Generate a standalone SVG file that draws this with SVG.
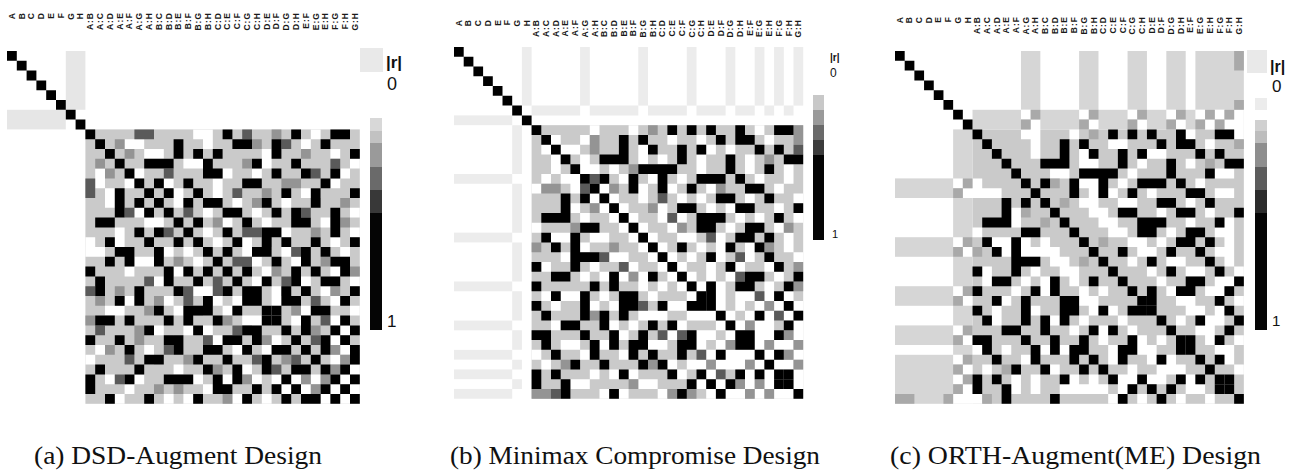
<svg xmlns="http://www.w3.org/2000/svg" width="1289" height="470" viewBox="0 0 1289 470">
<style>
.k{fill:none;stroke:#000;stroke-width:1}
.w{fill:none;stroke:#fff;stroke-width:1}
.m{fill:none;stroke:#949494;stroke-width:1}
.d{fill:none;stroke:#5a5a5a;stroke-width:1}
.mc{fill:none;stroke:#a9a9a9;stroke-width:1}
.lt{fill:#cacaca}
.fa{fill:#e6e6e6}
.fb{fill:#ececec}
.fbs{fill:none;stroke:#ececec;stroke-width:1}
.fc{fill:#d6d6d6}
.lab{font-family:"Liberation Sans",Arial,sans-serif;font-weight:bold;font-size:8.5px;letter-spacing:1px;text-anchor:end;fill:#1a1a1a}
.leg{font-family:"Liberation Sans",Arial,sans-serif;fill:#111}
.cap{font-family:"Liberation Serif","Times New Roman",serif;font-size:25px;fill:#111}
</style>
<defs>
<!-- slight softening of the cell edges -->
<filter id="soft" x="-2%" y="-2%" width="104%" height="104%">
<feGaussianBlur stdDeviation="0.06"/>
</filter>
<!-- unit-cell diagonal (|r| = 1 with itself) -->
<path id="diag" class="k" d="M0 .5h1M1 1.5h1M2 2.5h1M3 3.5h1M4 4.5h1M5 5.5h1M6 6.5h1M7 7.5h1M8 8.5h1M9 9.5h1M10 10.5h1M11 11.5h1M12 12.5h1M13 13.5h1M14 14.5h1M15 15.5h1M16 16.5h1M17 17.5h1M18 18.5h1M19 19.5h1M20 20.5h1M21 21.5h1M22 22.5h1M23 23.5h1M24 24.5h1M25 25.5h1M26 26.5h1M27 27.5h1M28 28.5h1M29 29.5h1M30 30.5h1M31 31.5h1M32 32.5h1M33 33.5h1M34 34.5h1M35 35.5h1"/>
<!-- fully aliased interaction pairs shared by designs (b) and (c) -->
<path id="kbc" class="k" d="M22 8.5h1M24 8.5h1M26 8.5h1M29 8.5h1M33 8.5h2M17 9.5h1M19 9.5h1M27 9.5h1M29 9.5h2M17 10.5h1M20 10.5h1M23 10.5h1M25 10.5h1M31 10.5h1M33 10.5h1M15 11.5h3M23 11.5h1M28 11.5h1M34 11.5h2M19 12.5h4M28 12.5h1M32 12.5h1M15 13.5h1M18 13.5h1M21 13.5h1M25 13.5h3M29 13.5h1M18 14.5h1M21 14.5h1M24 14.5h1M30 14.5h2M27 15.5h2M32 15.5h1M23 16.5h2M29 16.5h2M35 16.5h1M25 17.5h3M33 17.5h1M25 18.5h2M30 18.5h2M29 19.5h2M32 19.5h1M23 20.5h1M28 20.5h1M31 20.5h1M26 21.5h1M32 21.5h1M28 22.5h1M33 22.5h1M30 23.5h2M35 23.5h1M26 24.5h1M29 24.5h2M34 24.5h1M26 25.5h1M33 25.5h1M34 26.5h1M31 27.5h1M35 27.5h1M34 28.5h1M30 29.5h1M33 29.5h1M33 31.5h1M34 33.5h1"/>
<!-- rotated column labels, 9.8 px pitch -->
<g id="collabels" class="lab" transform="rotate(-90)">
<text y="7.8">A</text><text y="17.6">B</text><text y="27.4">C</text><text y="37.2">D</text><text y="47">E</text><text y="56.8">F</text><text y="66.6">G</text><text y="76.4">H</text><text y="86.2">A:B</text><text y="96">A:C</text><text y="105.8">A:D</text><text y="115.6">A:E</text><text y="125.4">A:F</text><text y="135.2">A:G</text><text y="145">A:H</text><text y="154.8">B:C</text><text y="164.6">B:D</text><text y="174.4">B:E</text><text y="184.2">B:F</text><text y="194">B:G</text><text y="203.8">B:H</text><text y="213.6">C:D</text><text y="223.4">C:E</text><text y="233.2">C:F</text><text y="243">C:G</text><text y="252.8">C:H</text><text y="262.6">D:E</text><text y="272.4">D:F</text><text y="282.2">D:G</text><text y="292">D:H</text><text y="301.8">E:F</text><text y="311.6">E:G</text><text y="321.4">E:H</text><text y="331.2">F:G</text><text y="341">F:H</text><text y="350.8">G:H</text>
</g>
</defs>
<rect width="1289" height="470" fill="#fff"/>

<!-- (a) DSD-Augment -->
<g id="panel-a">
<use href="#collabels" transform="translate(7,12)"/>
<g id="heatmap-a" transform="translate(7,51) scale(9.8)" filter="url(#soft)">
<rect class="lt" x="8" y="8" width="28" height="28"/>
<g id="tri-a">
<rect class="fa" x="6" y="0" width="2" height="6"/>
<path class="w" d="M19 8.5h2M31 8.5h1M12 9.5h2M20 9.5h1M30 9.5h1M14 10.5h2M26 10.5h1M33 10.5h1M18 11.5h2M26 11.5h1M35 11.5h1M13 12.5h1M22 12.5h1M25 12.5h1M34 12.5h1M16 13.5h1M21 13.5h1M33 13.5h1M17 14.5h1M21 14.5h1M30 14.5h2M17 15.5h1M23 15.5h1M28 15.5h1M20 16.5h1M25 16.5h1M35 16.5h1M22 17.5h1M26 17.5h1M32 17.5h1M20 18.5h1M28 18.5h1M35 18.5h1M21 19.5h1M24 19.5h1M33 19.5h1M24 20.5h1M28 20.5h1M34 20.5h1M25 21.5h1M29 21.5h1M26 22.5h1M33 22.5h1M25 23.5h1M30 23.5h1M35 23.5h1M27 24.5h1M32 24.5h1M27 25.5h1M33 25.5h1M30 26.5h1M35 26.5h1M29 27.5h1M33 27.5h1M34 28.5h1M33 29.5h1M34 30.5h1M33 31.5h1M35 32.5h1M34 33.5h1M35 34.5h1"/>
<path class="m" d="M27 8.5h1M11 9.5h1M25 9.5h1M12 10.5h1M30 10.5h1M24 11.5h1M28 13.5h2M26 14.5h1M25 15.5h1M34 15.5h1M21 17.5h1M34 17.5h1M31 18.5h1M26 19.5h1M32 21.5h1M27 22.5h1M35 22.5h1M28 24.5h1M33 24.5h1M29 26.5h1M31 28.5h1M33 30.5h1M34 31.5h1M33 32.5h1"/>
<path class="d" d="M13 8.5h2M24 8.5h1M28 9.5h1M33 11.5h1M16 12.5h1M31 12.5h1M23 14.5h1M18 16.5h1M30 16.5h1M24 18.5h2M29 20.5h1M23 21.5h2M28 23.5h1M31 25.5h1M32 27.5h1M31 29.5h1"/>
<path class="k" d="M22 8.5h1M29 8.5h1M33 8.5h2M17 9.5h1M23 9.5h2M27 9.5h1M32 9.5h1M17 10.5h1M19 10.5h1M21 10.5h1M27 10.5h1M35 10.5h1M14 11.5h3M20 11.5h1M25 11.5h1M29 11.5h1M20 12.5h2M27 12.5h1M30 12.5h1M33 12.5h1M15 13.5h1M18 13.5h1M24 13.5h2M32 13.5h1M16 14.5h1M19 14.5h1M28 14.5h1M31 14.5h1M35 14.5h1M18 15.5h1M20 15.5h2M26 15.5h1M31 15.5h1M22 16.5h2M27 16.5h1M29 16.5h1M33 16.5h1M19 17.5h1M24 17.5h1M29 17.5h2M33 17.5h1M22 18.5h1M26 18.5h2M33 18.5h1M23 19.5h1M26 19.5h1M28 19.5h1M31 19.5h1M35 19.5h1M22 20.5h1M25 20.5h2M30 20.5h1M32 20.5h1M27 21.5h1M30 21.5h1M33 21.5h2M24 22.5h1M29 22.5h1M31 22.5h1M34 22.5h1M26 23.5h1M29 23.5h1M32 23.5h2M25 24.5h1M28 24.5h1M30 24.5h1M35 24.5h1M28 25.5h2M34 25.5h1M27 26.5h1M31 26.5h2M30 27.5h1M34 27.5h1M30 28.5h1M33 28.5h1M35 28.5h1M32 29.5h1M34 29.5h1M32 30.5h1M35 30.5h1M35 31.5h1M34 32.5h1M35 33.5h1"/>
</g>
<use href="#tri-a" transform="matrix(0 1 1 0 0 0)"/>
<use href="#diag"/>
</g>
<g id="legend-a">
<rect x="360" y="48" width="23" height="24" fill="#e9e9e9"/>
<rect x="370" y="118" width="12" height="13" fill="#d8d8d8"/>
<rect x="370" y="131" width="12" height="12" fill="#c2c2c2"/>
<rect x="370" y="143" width="12" height="24" fill="#9a9a9a"/>
<rect x="370" y="167" width="12" height="23" fill="#6a6a6a"/>
<rect x="370" y="190" width="12" height="23" fill="#383838"/>
<rect x="370" y="213" width="12" height="117" fill="#050505"/>
<text class="leg" x="386" y="68" font-size="17" font-weight="bold">|r|</text>
<text class="leg" x="387" y="90" font-size="18">0</text>
<text class="leg" x="387" y="327" font-size="17">1</text>
</g>
<text class="cap" x="34" y="464" textLength="288" lengthAdjust="spacingAndGlyphs">(a) DSD-Augment Design</text>
</g>

<!-- (b) Minimax Compromise -->
<g id="panel-b">
<use href="#collabels" transform="translate(454,19) scale(0.99,1)"/>
<g id="heatmap-b" transform="translate(454,47) scale(9.7,9.77)" filter="url(#soft)">
<rect class="lt" x="8" y="8" width="28" height="28"/>
<g id="tri-b">
<rect class="fb" x="7" y="0" width="1" height="6"/>
<rect class="fb" x="13" y="0" width="1" height="6"/>
<rect class="fb" x="19" y="0" width="1" height="6"/>
<rect class="fb" x="24" y="0" width="1" height="6"/>
<rect class="fb" x="28" y="0" width="1" height="6"/>
<rect class="fb" x="31" y="0" width="1" height="6"/>
<rect class="fb" x="33" y="0" width="1" height="6"/>
<rect class="fb" x="35" y="0" width="1" height="6"/>
<path class="fbs" d="M8 6.5h5M14 6.5h5M20 6.5h4M25 6.5h3M29 6.5h2M32 6.5h1M34 6.5h1"/>
<path class="w" d="M14 8.5h1M18 8.5h1M31 8.5h1M10 9.5h1M13 9.5h1M22 9.5h1M25 9.5h1M32 9.5h1M11 10.5h2M19 10.5h1M26 10.5h1M28 10.5h1M13 11.5h1M19 11.5h1M21 11.5h1M25 11.5h1M30 11.5h1M13 12.5h2M16 12.5h1M25 12.5h1M30 12.5h1M34 12.5h1M17 13.5h1M20 13.5h1M23 13.5h1M31 13.5h1M34 13.5h1M15 14.5h1M19 14.5h1M22 14.5h1M26 14.5h1M33 14.5h1M16 15.5h1M19 15.5h1M23 15.5h1M25 15.5h1M30 15.5h1M35 15.5h1M17 16.5h1M21 16.5h1M26 16.5h1M28 16.5h1M33 16.5h1M18 17.5h1M21 17.5h1M23 17.5h1M29 17.5h1M31 17.5h1M35 17.5h1M19 18.5h1M22 18.5h1M28 18.5h1M33 18.5h1M20 19.5h1M23 19.5h2M27 19.5h1M34 19.5h1M21 20.5h1M25 20.5h1M27 20.5h1M30 20.5h1M34 20.5h1M22 21.5h1M24 21.5h1M27 21.5h1M30 21.5h1M35 21.5h1M23 22.5h1M26 22.5h1M29 22.5h1M32 22.5h1M24 23.5h1M26 23.5h1M28 23.5h1M33 23.5h1M25 24.5h1M27 24.5h1M32 24.5h1M27 25.5h1M29 25.5h2M32 25.5h1M34 25.5h1M27 26.5h1M29 26.5h1M31 26.5h1M33 26.5h1M35 26.5h1M28 27.5h1M30 27.5h1M32 27.5h1M34 27.5h1M29 28.5h1M31 28.5h2M35 28.5h1M31 29.5h2M35 29.5h1M31 30.5h1M33 30.5h2M32 31.5h1M35 31.5h1M33 32.5h2M35 33.5h1M35 34.5h1"/>
<path class="m" d="M20 8.5h1M35 8.5h1M14 9.5h1M35 9.5h1M14 10.5h1M32 11.5h1M18 12.5h1M16 14.5h1M27 14.5h1M20 16.5h1M23 18.5h1M34 18.5h1M32 20.5h1M35 22.5h1M35 24.5h1M32 26.5h1M30 28.5h1M34 29.5h1M32 30.5h1M35 30.5h1M34 31.5h1M35 32.5h1"/>
<path class="d" d="M35 10.5h1M14 13.5h1M21 15.5h1M22 17.5h1M26 19.5h1M29 21.5h1M29 23.5h1M31 25.5h1M33 27.5h1"/>
<use href="#kbc"/>
</g>
<use href="#tri-b" transform="matrix(0 1 1 0 0 0)"/>
<use href="#diag"/>
</g>
<g id="legend-b">
<rect x="813" y="95" width="11" height="15" fill="#c8c8c8"/>
<rect x="813" y="110" width="11" height="15" fill="#9a9a9a"/>
<rect x="813" y="125" width="11" height="15" fill="#6a6a6a"/>
<rect x="813" y="140" width="11" height="15" fill="#3c3c3c"/>
<rect x="813" y="155" width="11" height="85" fill="#050505"/>
<text class="leg" x="830" y="61" font-size="10" font-weight="bold">|r|</text>
<text class="leg" x="830" y="77" font-size="12">0</text>
<text class="leg" x="832" y="238" font-size="11">1</text>
</g>
<text class="cap" x="450" y="464" textLength="370" lengthAdjust="spacingAndGlyphs">(b) Minimax Compromise Design</text>
</g>

<!-- (c) ORTH-Augment(ME) -->
<g id="panel-c">
<use href="#collabels" transform="translate(895,16) scale(0.989,1)"/>
<g id="heatmap-c" transform="translate(895,51) scale(9.69,9.8)" filter="url(#soft)">
<rect class="lt" x="8" y="8" width="28" height="28"/>
<g id="tri-c">
<rect class="fc" x="13" y="0" width="2" height="6"/>
<rect class="fc" x="19" y="0" width="2" height="6"/>
<rect class="fc" x="24" y="0" width="2" height="6"/>
<rect class="fc" x="28" y="0" width="2" height="6"/>
<rect class="fc" x="31" y="0" width="5" height="6"/>
<rect class="fc" x="8" y="6" width="28" height="2"/>
<path class="w" d="M13 6.5h1M19 6.5h1M24 6.5h1M28 6.5h1M31 6.5h1M33 6.5h1M35 6.5h1M14 7.5h1M20 7.5h1M25 7.5h1M29 7.5h1M32 7.5h1M34 7.5h2M13 8.5h2M18 8.5h1M30 8.5h1M35 8.5h1M14 9.5h1M22 9.5h2M32 9.5h1M14 10.5h1M19 10.5h1M26 10.5h2M19 11.5h2M25 11.5h1M30 11.5h1M16 12.5h2M24 12.5h1M33 12.5h2M19 13.5h2M23 13.5h1M31 13.5h1M20 14.5h1M22 14.5h1M26 14.5h1M33 14.5h2M19 15.5h2M23 15.5h2M30 15.5h1M20 16.5h2M27 16.5h1M32 16.5h1M21 17.5h2M30 17.5h1M34 17.5h1M22 18.5h2M28 18.5h1M33 18.5h2M24 19.5h2M27 19.5h1M34 19.5h1M25 20.5h2M33 20.5h2M24 21.5h1M28 21.5h2M34 21.5h1M26 22.5h1M30 22.5h2M35 22.5h1M27 23.5h1M33 23.5h2M28 24.5h1M32 24.5h2M29 25.5h2M35 25.5h1M30 26.5h2M33 26.5h1M29 27.5h1M32 27.5h2M31 28.5h2M32 29.5h1M35 29.5h1M33 30.5h2M34 31.5h1M35 32.5h1"/>
<path class="mc" d="M35 .5h1M35 1.5h1M35 5.5h1M14 6.5h1M20 6.5h1M25 6.5h1M29 6.5h1M32 6.5h1M34 6.5h1M13 7.5h1M19 7.5h1M24 7.5h1M28 7.5h1M31 7.5h1M33 7.5h1M20 8.5h1M35 9.5h1M32 11.5h1M16 13.5h1M17 15.5h1M21 19.5h1"/>
<use href="#kbc"/>
</g>
<use href="#tri-c" transform="matrix(0 1 1 0 0 0)"/>
<use href="#diag"/>
</g>
<g id="legend-c">
<rect x="1247" y="50" width="20" height="23" fill="#e9e9e9"/>
<rect x="1255" y="98" width="12" height="12" fill="#ececec"/>
<rect x="1255" y="120" width="12" height="11" fill="#d0d0d0"/>
<rect x="1255" y="131" width="12" height="12" fill="#bdbdbd"/>
<rect x="1255" y="143" width="12" height="24" fill="#8e8e8e"/>
<rect x="1255" y="167" width="12" height="23" fill="#5c5c5c"/>
<rect x="1255" y="190" width="12" height="23" fill="#2c2c2c"/>
<rect x="1255" y="213" width="12" height="117" fill="#050505"/>
<text class="leg" x="1270" y="72" font-size="16" font-weight="bold">|r|</text>
<text class="leg" x="1272" y="92" font-size="17">0</text>
<text class="leg" x="1272" y="326" font-size="15">1</text>
</g>
<text class="cap" x="890" y="464" textLength="371" lengthAdjust="spacingAndGlyphs">(c) ORTH-Augment(ME) Design</text>
</g>
</svg>
